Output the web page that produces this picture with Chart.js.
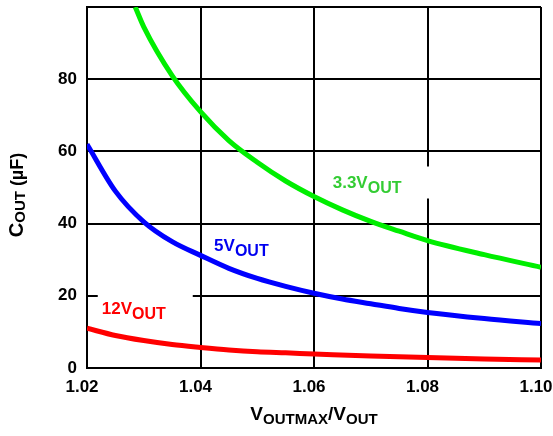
<!DOCTYPE html>
<html>
<head>
<meta charset="utf-8">
<script src="https://cdn.jsdelivr.net/npm/chart.js@4.4.1/dist/chart.umd.min.js"></script>
<style>
  html, body { margin: 0; padding: 0; background: #fff; }
  #wrap { width: 553px; height: 436px; position: relative; }
</style>
</head>
<body>
<div id="wrap"><canvas id="coutChart"></canvas></div>
<script>
// --- dane ---
const ratio33 = [1.0285, 1.03, 1.035, 1.04, 1.045, 1.05, 1.055, 1.06, 1.065, 1.07, 1.075, 1.08, 1.09, 1.10];
const cout33  = [100, 94.5, 81, 71, 63, 57, 51.8, 47.5, 43.8, 40.6, 37.9, 35.3, 31.4, 27.9];

const ratio5 = [1.02, 1.025, 1.03, 1.035, 1.04, 1.045, 1.05, 1.055, 1.06, 1.065, 1.07, 1.075, 1.08, 1.09, 1.10];
const cout5  = [62, 49, 40.5, 35, 31.2, 27.6, 24.8, 22.6, 20.7, 19.1, 17.8, 16.5, 15.4, 13.7, 12.3];

const ratio12 = [1.02, 1.025, 1.03, 1.035, 1.04, 1.045, 1.05, 1.055, 1.06, 1.07, 1.08, 1.09, 1.10];
const cout12  = [11, 9, 7.6, 6.5, 5.7, 5.0, 4.5, 4.2, 3.9, 3.3, 2.9, 2.5, 2.2];

const xTicks = [1.02, 1.04, 1.06, 1.08, 1.10];
const yTicks = [0, 20, 40, 60, 80, 100];

// etykiety serii: tekst, indeks dolny, pozycja (w jednostkach danych)
const seriesLabels = [
    { main: '12V',  sub: 'OUT', x: 1.0226, y: 15.0, color: '#ff0000', box: [-4, 91] },
    { main: '5V',   sub: 'OUT', x: 1.0424, y: 32.5, color: '#0000f0', box: null },
    { main: '3.3V', sub: 'OUT', x: 1.0633, y: 50.0, color: '#33cc33', box: [-8, 100] }
];

const FONT = '"Liberation Sans", Arial, Helvetica, sans-serif';

const toPoints = (xs, ys) => xs.map((x, i) => ({ x: x, y: ys[i] }));

// rysowanie tekstu z indeksem dolnym
function drawSub(ctx, x, y, main, sub, size, subSize, drop) {
    ctx.font = 'bold ' + size + 'px ' + FONT;
    ctx.fillText(main, x, y);
    const w = ctx.measureText(main).width;
    ctx.font = 'bold ' + subSize + 'px ' + FONT;
    ctx.fillText(sub, x + w, y + drop);
    return w + ctx.measureText(sub).width;
}

const labelsPlugin = {
    id: 'seriesLabels',
    beforeDatasetsDraw(chart) {
        const { ctx, scales } = chart;
        ctx.save();
        ctx.fillStyle = '#fff';
        seriesLabels.forEach(l => {
            if (!l.box) return;
            const px = scales.x.getPixelForValue(l.x);
            const py = scales.y.getPixelForValue(l.y);
            ctx.fillRect(px + l.box[0], py - 21, l.box[1] - l.box[0], 32);
        });
        ctx.restore();
    },
    afterDatasetsDraw(chart) {
        const { ctx, scales } = chart;
        ctx.save();
        ctx.textBaseline = 'alphabetic';
        ctx.textAlign = 'left';
        seriesLabels.forEach(l => {
            const px = scales.x.getPixelForValue(l.x);
            const py = scales.y.getPixelForValue(l.y);
            ctx.fillStyle = l.color;
            drawSub(ctx, px, py, l.main, l.sub, 17, 16, 5);
        });
        ctx.restore();
    },
    afterDraw(chart) {
        const { ctx, chartArea } = chart;
        ctx.save();
        ctx.fillStyle = '#000';
        ctx.textBaseline = 'alphabetic';
        ctx.textAlign = 'left';

        // tytuł osi X: VOUTMAX/VOUT
        const parts = [['V', 19, 0], ['OUTMAX', 15, 4], ['/V', 19, 0], ['OUT', 15, 4]];
        let total = 0;
        parts.forEach(p => { ctx.font = 'bold ' + p[1] + 'px ' + FONT; total += ctx.measureText(p[0]).width; });
        let x = (chartArea.left + chartArea.right) / 2 - total / 2;
        const by = 420;
        parts.forEach(p => {
            ctx.font = 'bold ' + p[1] + 'px ' + FONT;
            ctx.fillText(p[0], x, by + p[2]);
            x += ctx.measureText(p[0]).width;
        });

        // tytuł osi Y: COUT (µF)
        ctx.translate(23, 195);
        ctx.rotate(-Math.PI / 2);
        const yparts = [['C', 20, 0], ['OUT', 15, 2], [' (\u00B5F)', 18, 0]];
        total = 0;
        yparts.forEach(p => { ctx.font = 'bold ' + p[1] + 'px ' + FONT; total += ctx.measureText(p[0]).width; });
        x = -total / 2;
        yparts.forEach(p => {
            ctx.font = 'bold ' + p[1] + 'px ' + FONT;
            ctx.fillText(p[0], x, p[2]);
            x += ctx.measureText(p[0]).width;
        });
        ctx.restore();
    }
};

function lineSet(label, xs, ys, color) {
    return {
        label: label,
        data: toPoints(xs, ys),
        borderColor: color,
        backgroundColor: color,
        borderWidth: 5,
        pointRadius: 0,
        fill: false,
        cubicInterpolationMode: 'monotone'
    };
}

const ctx = document.getElementById('coutChart').getContext('2d');
new Chart(ctx, {
    type: 'line',
    data: {
        datasets: [
            lineSet('3.3V', ratio33, cout33, '#00ee00'),
            lineSet('5V', ratio5, cout5, '#0000ff'),
            lineSet('12V', ratio12, cout12, '#ff0000')
        ]
    },
    plugins: [labelsPlugin],
    options: {
        responsive: true,
        maintainAspectRatio: false,
        animation: false,
        layout: { padding: { top: 7, right: 12, left: 0, bottom: 0 } },
        plugins: {
            legend: { display: false },
            title: { display: false },
            tooltip: { enabled: false }
        },
        scales: {
            x: {
                type: 'linear',
                min: 1.02,
                max: 1.10,
                afterBuildTicks: s => { s.ticks = xTicks.map(v => ({ value: v })); },
                afterFit: s => { s.height = 68; s.paddingLeft = 0; s.paddingRight = 0; },
                grid: { color: '#000', lineWidth: 2, drawTicks: false },
                border: { color: '#000', width: 2 },
                ticks: {
                    padding: 9,
                    labelOffset: -5,
                    maxRotation: 0,
                    color: '#000',
                    font: { family: FONT, size: 17, weight: 'bold' },
                    callback: v => v.toFixed(2)
                }
            },
            y: {
                min: 0,
                max: 100,
                afterBuildTicks: s => { s.ticks = yTicks.map(v => ({ value: v })); },
                afterFit: s => { s.width = 87; s.paddingTop = 0; s.paddingBottom = 0; },
                grid: { color: '#000', lineWidth: 2, drawTicks: false },
                border: { color: '#000', width: 2 },
                ticks: {
                    padding: 10,
                    color: '#000',
                    font: { family: FONT, size: 17, weight: 'bold' },
                    callback: v => (v === 100 ? '' : v)
                }
            }
        }
    }
});
</script>
</body>
</html>
